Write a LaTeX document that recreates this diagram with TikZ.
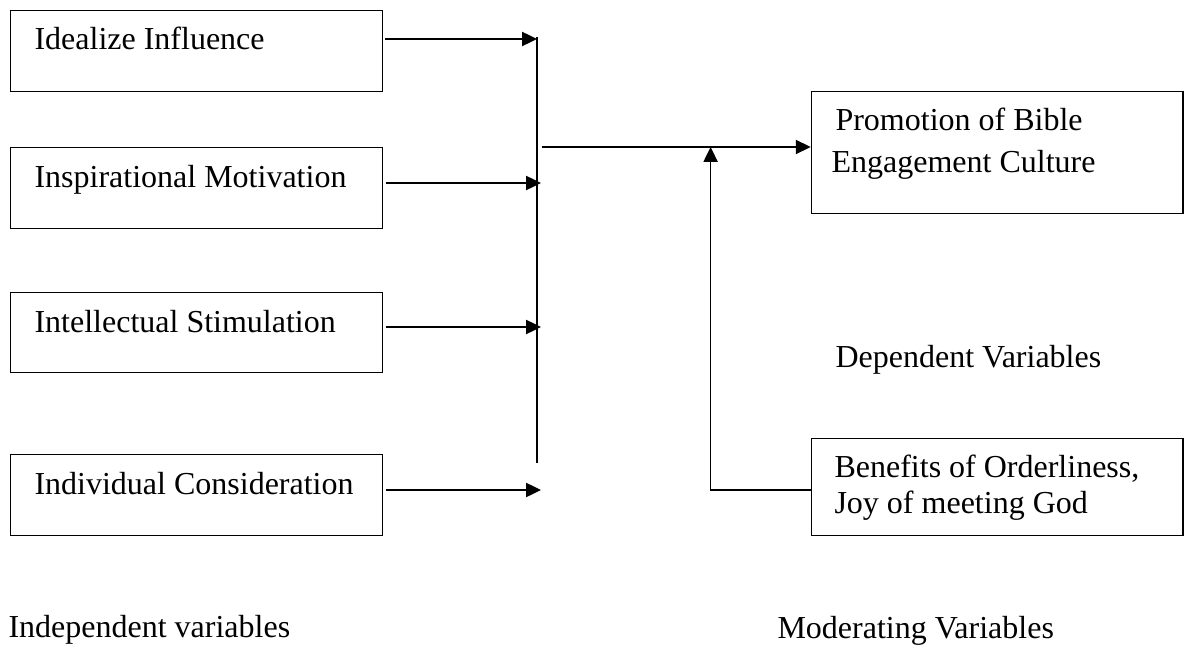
\documentclass[tikz,border=0pt]{standalone}
\usepackage{fontspec}
\setmainfont{Liberation Serif}
\usetikzlibrary{arrows.meta}
\begin{document}
\begin{tikzpicture}[x=0.375pt,y=-0.375pt,
  box/.style={draw, line width=0.5pt, rectangle, inner sep=0pt, anchor=north west},
  txt/.style={inner sep=0pt, anchor=base west, font=\fontsize{12}{15.75}\selectfont, align=left},
  arr/.style={line width=0.65pt, -{Triangle[length=5.6pt,width=5.3pt]}},
  ln/.style={line width=0.6pt}]
\useasboundingbox (0,0) rectangle (1184,645);
% left boxes
\node[box, minimum width=372.5*0.375pt, minimum height=81*0.375pt] (b1) at (9.6,10) {};
\node[box, minimum width=372.5*0.375pt, minimum height=81*0.375pt] (b2) at (9.6,147) {};
\node[box, minimum width=372.5*0.375pt, minimum height=80*0.375pt] (b3) at (9.6,292) {};
\node[box, minimum width=372.5*0.375pt, minimum height=81*0.375pt] (b4) at (9.6,454) {};
\node[txt] (t1) at (34,50) {Idealize Influence};
\node[txt] (t2) at (34,187) {Inspirational Motivation};
\node[txt] (t3) at (34,332) {Intellectual Stimulation};
\node[txt] (t4) at (34,494) {Individual Consideration};
% right boxes
\node[box, minimum width=371.5*0.375pt, minimum height=122*0.375pt] (p) at (810.7,91) {};
\node[box, minimum width=371.5*0.375pt, minimum height=97*0.375pt] (m) at (810.7,438) {};
\node[txt] (tp) at (831,173) {\hspace{1.5pt}Promotion of Bible\\Engagement Culture};
\node[txt, font=\fontsize{12}{13.5}\selectfont] (tm) at (834,513) {Benefits of Orderliness,\\Joy of meeting God};
% captions
\node[txt] (iv) at (8,637) {Independent variables};
\node[txt] (dv) at (835,367) {Dependent Variables};
\node[txt] (mv) at (777,638) {Moderating Variables};
% junction
\coordinate (vt) at (537,37);
\coordinate (vb) at (537,463);
\coordinate (j1) at (537,39);
\coordinate (j2) at (541,183);
\coordinate (j3) at (541,327);
\coordinate (j4) at (541,490);
\coordinate (hs) at (541.7,147);
\coordinate (up) at (710.6,147);
\coordinate (mc) at (710.6,490);
\draw[ln] (vt) -- (vb);
\draw[arr] ([xshift=0.5pt]b1.east |- j1) -- (j1);
\draw[arr] ([xshift=1pt]b2.east |- j2) -- (j2);
\draw[arr] ([xshift=1pt]b3.east |- j3) -- (j3);
\draw[arr] ([xshift=1pt]b4.east |- j4) -- (j4);
\draw[arr] (hs) -- (hs -| p.west);
\draw[arr] (m.west |- mc) -- (mc) -- (up);
\end{tikzpicture}
\end{document}
